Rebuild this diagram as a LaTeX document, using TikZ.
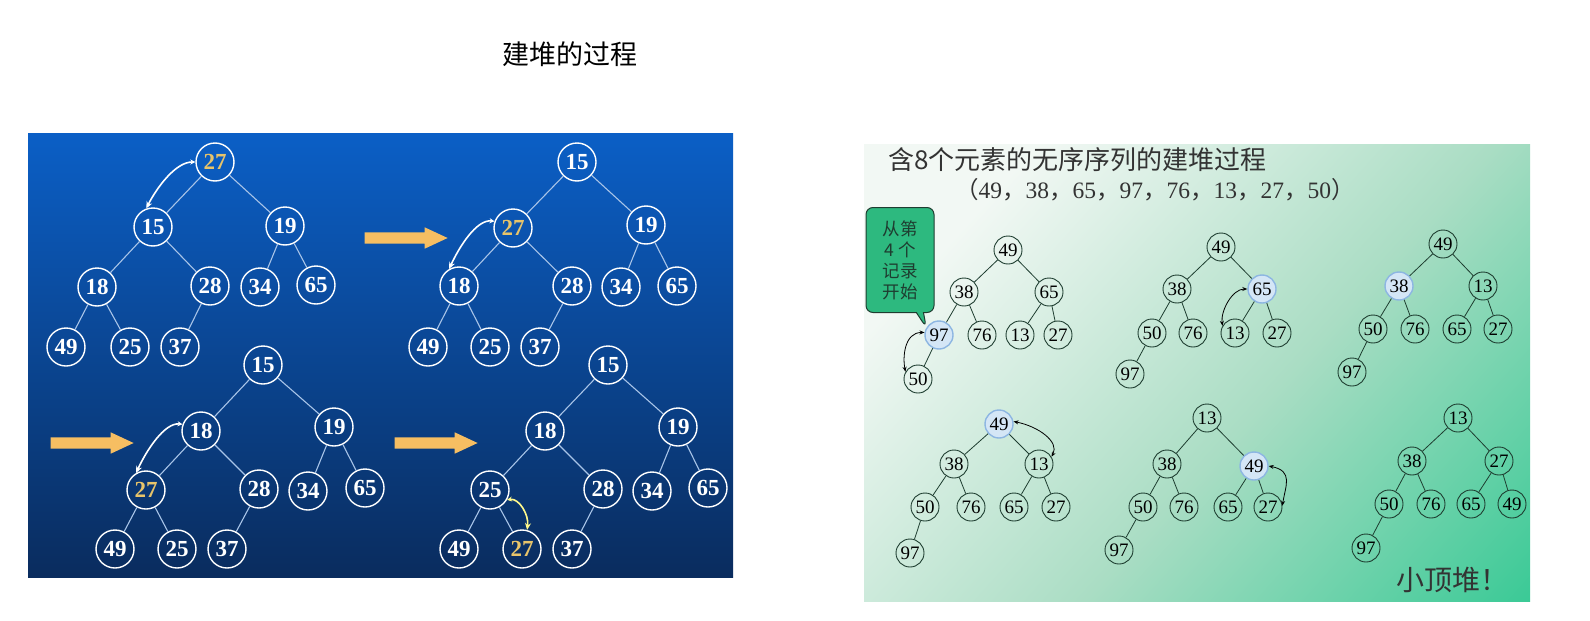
\documentclass[tikz,border=0pt]{standalone}
\usepackage{fontspec}
\setmainfont{Liberation Serif}
\newfontfamily\cjk{Noto Sans CJK SC}
\usepackage{xcolor}
\usepackage{tikz}
\usetikzlibrary{arrows.meta,shapes.arrows,shapes.callouts}

\definecolor{bluetop}{HTML}{0B5FC6}
\definecolor{bluebot}{HTML}{0A2C5E}
\definecolor{edgeblue}{HTML}{A8C4E8}
\definecolor{hot}{HTML}{E8C46A}
\definecolor{orangearrow}{HTML}{F6BE62}
\definecolor{greentop}{HTML}{F2F8F4}
\definecolor{greenmid}{HTML}{AADDC4}
\definecolor{greenbot}{HTML}{38C995}
\definecolor{hlfill}{HTML}{D4E6F6}
\definecolor{hlline}{HTML}{8DB6E2}
\definecolor{callgreen}{HTML}{2DB97F}
\definecolor{inkgreen}{HTML}{1E3D30}

\pgfdeclareverticalshading{greenwash}{100bp}{color(0bp)=(greenbot); color(14bp)=(greenbot); color(44bp)=(greenmid); color(74bp)=(greentop); color(100bp)=(greentop)}

\newcommand\zcomma{{\cjk ，}}

\begin{document}
\begin{tikzpicture}[x=1pt,y=-1pt,
  bnode/.style={circle,draw=white,line width=1.4pt,minimum size=38pt,inner sep=0pt,text=white,font=\fontsize{23}{23}\selectfont\bfseries},
  gnode/.style={circle,draw=inkgreen,line width=0.9pt,minimum size=28pt,inner sep=0pt,text=black,font=\fontsize{19}{19}\selectfont},
  hl/.style={fill=hlfill,draw=hlline,line width=1.4pt},
  bedge/.style={draw=edgeblue,line width=1.1pt},
  gedge/.style={draw=inkgreen,line width=0.8pt},
  swap/.style={white,line width=1.6pt,{Stealth[length=5pt,width=5pt]}-{Stealth[length=7pt,width=6pt]}},
  gswap/.style={black,line width=0.8pt,{Stealth[length=5pt,width=4pt]}-{Stealth[length=5pt,width=4pt]}},
  fat/.style={single arrow,fill=orangearrow,draw=none,minimum height=83pt,inner sep=5.5pt,single arrow head extend=5pt,single arrow tip angle=50}
]
\useasboundingbox (0,0) rectangle (1590,621);
\fill[white] (0,0) rectangle (1590,621);

\node[font=\cjk\fontsize{27}{27}\selectfont] (title) at (570,54) {建堆的过程};

% left panel
\shade[top color=bluetop,bottom color=bluebot] (28,133) rectangle (733,577);

\node[bnode,text=hot] (a27) at (215,162) {27};
\node[bnode] (a15) at (153,227) {15};
\node[bnode] (a19) at (285,226) {19};
\node[bnode] (a18) at (97,287) {18};
\node[bnode] (a28) at (210,286) {28};
\node[bnode] (a34) at (260,287) {34};
\node[bnode] (a65) at (316,285) {65};
\node[bnode] (a49) at (66,347) {49};
\node[bnode] (a25) at (130,347) {25};
\node[bnode] (a37) at (180,347) {37};
\draw[bedge] (a27)--(a15) (a27)--(a19) (a15)--(a18) (a15)--(a28) (a19)--(a34) (a19)--(a65) (a18)--(a49) (a18)--(a25) (a28)--(a37);
\draw[swap] (a27.180) .. controls +(-20,0) and +(10,-20) .. (a15.110);

\node[fat] (go1) at (400,238) {};

\node[bnode] (b15) at (577,162) {15};
\node[bnode,text=hot] (b27) at (513,228) {27};
\node[bnode] (b19) at (646,225) {19};
\node[bnode] (b18) at (459,286) {18};
\node[bnode] (b28) at (572,286) {28};
\node[bnode] (b34) at (621,287) {34};
\node[bnode] (b65) at (677,286) {65};
\node[bnode] (b49) at (428,347) {49};
\node[bnode] (b25) at (490,347) {25};
\node[bnode] (b37) at (540,347) {37};
\draw[bedge] (b15)--(b27) (b15)--(b19) (b27)--(b18) (b27)--(b28) (b19)--(b34) (b19)--(b65) (b18)--(b49) (b18)--(b25) (b28)--(b37);
\draw[swap] (b27.160) .. controls +(-18,-2) and +(10,-22) .. (b18.120);

\node[fat] (go2) at (86,443) {};

\node[bnode] (c15) at (263,365) {15};
\node[bnode] (c18) at (201,431) {18};
\node[bnode] (c19) at (334,427) {19};
\node[bnode,text=hot] (c27) at (146,490) {27};
\node[bnode] (c28) at (259,489) {28};
\node[bnode] (c34) at (308,491) {34};
\node[bnode] (c65) at (365,488) {65};
\node[bnode] (c49) at (115,549) {49};
\node[bnode] (c25) at (177,549) {25};
\node[bnode] (c37) at (227,549) {37};
\draw[bedge] (c15)--(c18) (c15)--(c19) (c18)--(c27) (c18)--(c28) (c19)--(c34) (c19)--(c65) (c27)--(c49) (c27)--(c25) (c28)--(c37);
\draw[swap] (c18.160) .. controls +(-18,-2) and +(10,-22) .. (c27.120);

\node[fat] (go3) at (430,443) {};

\node[bnode] (d15) at (608,365) {15};
\node[bnode] (d18) at (545,431) {18};
\node[bnode] (d19) at (678,427) {19};
\node[bnode] (d25) at (490,490) {25};
\node[bnode] (d28) at (603,489) {28};
\node[bnode] (d34) at (652,491) {34};
\node[bnode] (d65) at (708,488) {65};
\node[bnode] (d49) at (459,549) {49};
\node[bnode,text=hot] (d27) at (522,549) {27};
\node[bnode] (d37) at (572,549) {37};
\draw[bedge] (d15)--(d18) (d15)--(d19) (d18)--(d25) (d18)--(d28) (d19)--(d34) (d19)--(d65) (d25)--(d49) (d25)--(d27) (d28)--(d37);
\draw[swap,draw=yellow!45!white] (d25.-30) .. controls +(12,-2) and +(2,-15) .. (d27.75);

% right panel
\shade[shading=greenwash,shading angle=48] (864,144) rectangle (1530,601);

\node[anchor=west,inner sep=0pt,text=black!80,font=\cjk\fontsize{26}{26}\selectfont] (head) at (888,160) {含8个元素的无序序列的建堆过程};
\node[anchor=west,inner sep=0pt,text=black!80,font=\fontsize{23.5}{24}\selectfont] (seq) at (955,190) {{\cjk （}49\zcomma 38\zcomma 65\zcomma 97\zcomma 76\zcomma 13\zcomma 27\zcomma 50{\cjk ）}};

\node[gnode] (e49) at (1008,250) {49};
\node[gnode] (e38) at (964,292) {38};
\node[gnode] (e65) at (1049,292) {65};
\node[gnode,hl] (e97) at (939,335) {97};
\node[gnode] (e76) at (982,335) {76};
\node[gnode] (e13) at (1020,335) {13};
\node[gnode] (e27) at (1058,335) {27};
\node[gnode] (e50) at (918,379) {50};
\draw[gedge] (e49)--(e38) (e49)--(e65) (e38)--(e97) (e38)--(e76) (e65)--(e13) (e65)--(e27) (e97)--(e50);
\draw[gswap] (e97.170) .. controls +(-20,0) and +(-3,-15) .. (e50.150);

\node[rectangle callout,rounded corners=7pt,fill=callgreen,draw=inkgreen,line width=1pt,minimum width=68pt,minimum height=105pt,inner sep=0pt,align=center,text=inkgreen,font=\cjk\fontsize{17.5}{21}\selectfont,callout absolute pointer={(e97.150)}] (hint) at (900,260) {从第\\4 个\\记录\\开始};

\node[gnode] (f49) at (1221,247) {49};
\node[gnode] (f38) at (1177,289) {38};
\node[gnode,hl] (f65) at (1262,289) {65};
\node[gnode] (f50) at (1152,333) {50};
\node[gnode] (f76) at (1193,333) {76};
\node[gnode] (f13) at (1235,333) {13};
\node[gnode] (f27) at (1277,333) {27};
\node[gnode] (f97) at (1130,374) {97};
\draw[gedge] (f49)--(f38) (f49)--(f65) (f38)--(f50) (f38)--(f76) (f65)--(f13) (f65)--(f27) (f50)--(f97);
\draw[gswap] (f65.180) .. controls +(-15,0) and +(-2,-15) .. (f13.150);

\node[gnode] (g49) at (1443,244) {49};
\node[gnode,hl] (g38) at (1399,286) {38};
\node[gnode] (g13) at (1483,286) {13};
\node[gnode] (g50) at (1373,329) {50};
\node[gnode] (g76) at (1415,329) {76};
\node[gnode] (g65) at (1457,329) {65};
\node[gnode] (g27) at (1498,329) {27};
\node[gnode] (g97) at (1352,372) {97};
\draw[gedge] (g49)--(g38) (g49)--(g13) (g38)--(g50) (g38)--(g76) (g13)--(g65) (g13)--(g27) (g50)--(g97);

\node[gnode,hl] (h49) at (999,424) {49};
\node[gnode] (h38) at (954,464) {38};
\node[gnode] (h13) at (1039,464) {13};
\node[gnode] (h50) at (925,507) {50};
\node[gnode] (h76) at (971,507) {76};
\node[gnode] (h65) at (1014,507) {65};
\node[gnode] (h27) at (1056,507) {27};
\node[gnode] (h97) at (910,553) {97};
\draw[gedge] (h49)--(h38) (h49)--(h13) (h38)--(h50) (h38)--(h76) (h13)--(h65) (h13)--(h27) (h50)--(h97);
\draw[gswap] (h49.10) .. controls +(25,5) and +(8,-15) .. (h13.30);

\node[gnode] (i13) at (1207,418) {13};
\node[gnode] (i38) at (1167,464) {38};
\node[gnode,hl] (i49) at (1254,466) {49};
\node[gnode] (i50) at (1143,507) {50};
\node[gnode] (i76) at (1184,507) {76};
\node[gnode] (i65) at (1228,507) {65};
\node[gnode] (i27) at (1268,507) {27};
\node[gnode] (i97) at (1119,550) {97};
\draw[gedge] (i13)--(i38) (i13)--(i49) (i38)--(i50) (i38)--(i76) (i49)--(i65) (i49)--(i27) (i50)--(i97);
\draw[gswap] (i49.0) .. controls +(25,5) and +(3,-20) .. (i27.5);

\node[gnode] (j13) at (1458,418) {13};
\node[gnode] (j38) at (1412,461) {38};
\node[gnode] (j27) at (1499,461) {27};
\node[gnode] (j50) at (1389,504) {50};
\node[gnode] (j76) at (1431,504) {76};
\node[gnode] (j65) at (1471,504) {65};
\node[gnode] (j49) at (1512,504) {49};
\node[gnode] (j97) at (1366,548) {97};
\draw[gedge] (j13)--(j38) (j13)--(j27) (j38)--(j50) (j38)--(j76) (j27)--(j65) (j27)--(j49) (j50)--(j97);

\node[text=black!80,font=\cjk\fontsize{28}{28}\selectfont] (small) at (1452,580) {小顶堆！};
\end{tikzpicture}
\end{document}
